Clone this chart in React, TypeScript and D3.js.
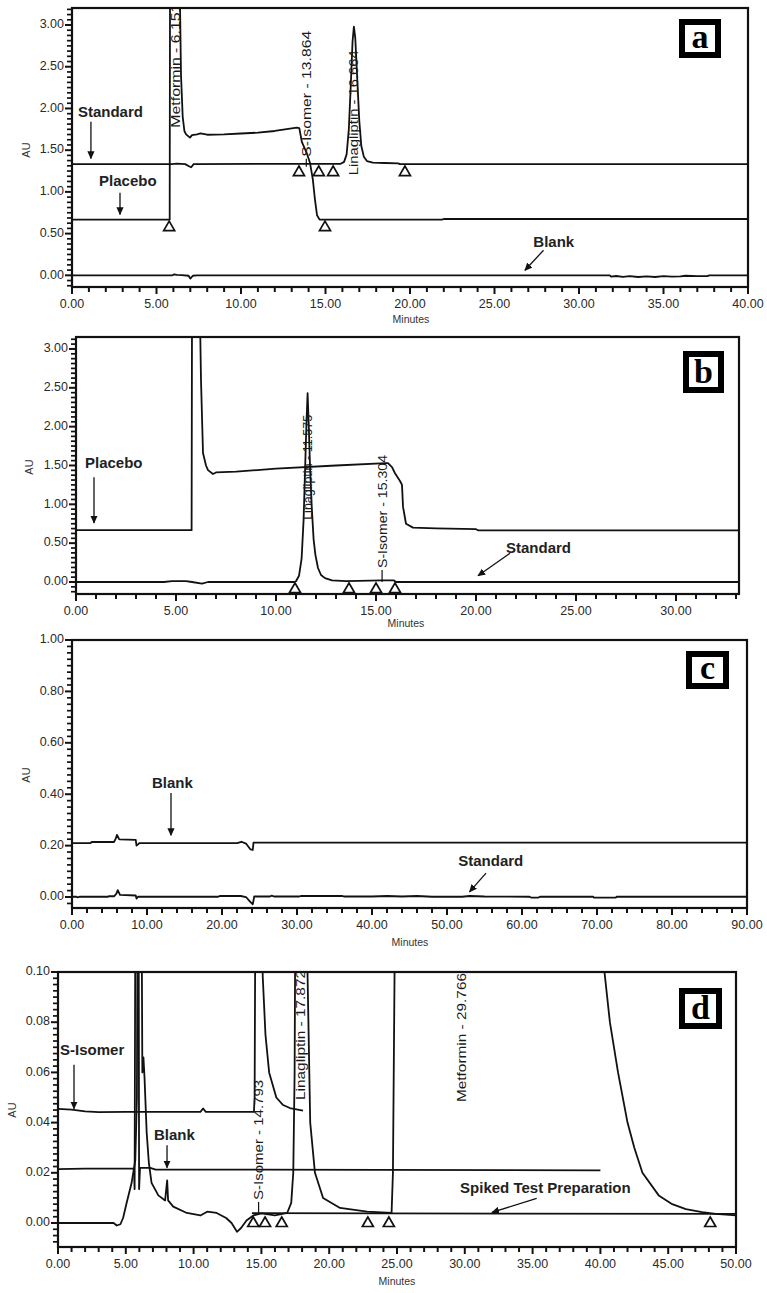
import React from "react";
import * as d3 from "d3";

type Pt = [number, number];

// ---------------- Panel (a) data ----------------
const aTimeTicks = [0, 5, 10, 15, 20, 25, 30, 35, 40];
const aAuTicks = [0, 0.5, 1, 1.5, 2, 2.5, 3];
const aStandard: Pt[] = [
  [0, 1.333], [5.9, 1.333], [6.2, 1.338], [6.7, 1.333], [6.95, 1.305], [7.05, 1.295], [7.2, 1.333],
  [15.9, 1.337], [16.1, 1.36], [16.25, 1.45], [16.38, 1.75], [16.5, 2.3], [16.6, 2.8], [16.68, 2.98],
  [16.76, 2.85], [16.88, 2.35], [17.0, 1.85], [17.12, 1.55], [17.27, 1.42], [17.45, 1.37], [17.8, 1.35],
  [18.5, 1.346], [19.3, 1.342], [19.4, 1.333], [40, 1.333],
];
const aPlacebo: Pt[] = [
  [0, 0.667], [5.78, 0.667], [5.8, 3.4], [6.38, 3.4], [6.45, 2.4], [6.55, 1.9], [6.65, 1.73], [6.75, 1.69],
  [6.98, 1.65], [7.1, 1.68], [7.4, 1.69], [7.6, 1.7], [8.0, 1.685], [9, 1.69], [10, 1.7], [11, 1.71],
  [12, 1.73], [13, 1.76], [13.3, 1.77], [13.45, 1.765], [13.6, 1.6], [13.9, 1.46], [14.08, 1.35],
  [14.25, 1.15], [14.38, 0.9], [14.5, 0.72], [14.65, 0.667], [21.9, 0.667], [22, 0.675], [40, 0.675],
];
const aBlank: Pt[] = [
  [0, 0], [5.95, 0], [6.05, 0.012], [6.2, 0.005], [6.5, 0.003], [6.9, -0.005], [7.0, -0.04], [7.15, -0.005],
  [7.4, 0], [31.8, 0], [31.9, -0.015], [32.2, -0.008], [32.6, -0.018], [33, -0.01], [33.5, -0.02],
  [34, -0.012], [34.5, -0.02], [35, -0.01], [35.5, -0.016], [36, -0.012], [36.3, -0.005], [37, -0.01],
  [37.6, -0.01], [37.7, 0], [40, 0],
];
const aTriangles: Pt[] = [[5.75, 0.59], [13.43, 1.25], [14.6, 1.25], [15.45, 1.25], [19.7, 1.25], [14.97, 0.59]];

// ---------------- Panel (b) data ----------------
const bTimeTicks = [0, 5, 10, 15, 20, 25, 30];
const bAuTicks = [0, 0.5, 1, 1.5, 2, 2.5, 3];
const bPlacebo: Pt[] = [
  [0, 0.667], [5.78, 0.667], [5.8, 3.4], [6.2, 3.4], [6.25, 2.6], [6.35, 1.66], [6.5, 1.5], [6.6, 1.44],
  [6.85, 1.39], [7.0, 1.41], [8, 1.42], [10, 1.46], [13, 1.5], [15.5, 1.53], [15.6, 1.53], [15.8, 1.48],
  [15.95, 1.4], [16.2, 1.3], [16.3, 1.25], [16.35, 0.97], [16.5, 0.75], [16.85, 0.7], [18, 0.69],
  [20, 0.68], [20.1, 0.665], [33.2, 0.665],
];
const bStandard: Pt[] = [
  [0, 0], [4.4, 0], [4.8, 0.01], [5.5, 0.012], [5.8, 0.0], [6.3, -0.02], [6.6, 0.0], [10.9, 0.0],
  [11.0, 0.01], [11.15, 0.08], [11.28, 0.3], [11.38, 0.8], [11.46, 1.5], [11.53, 2.1], [11.58, 2.43],
  [11.64, 2.0], [11.7, 1.5], [11.78, 1.0], [11.88, 0.55], [11.97, 0.35], [12.1, 0.18], [12.25, 0.09],
  [12.45, 0.05], [12.8, 0.02], [13.5, 0.01], [15.3, 0.02], [15.9, 0.02], [16.0, 0.0], [33.2, 0.0],
];
const bTriangles: Pt[] = [[10.95, -0.077], [13.65, -0.077], [15.0, -0.077], [15.95, -0.077]];

// ---------------- Panel (c) data ----------------
const cTimeTicks = [0, 10, 20, 30, 40, 50, 60, 70, 80, 90];
const cAuTicks = [0, 0.2, 0.4, 0.6, 0.8, 1.0];
const cBlank: Pt[] = [
  [0, 0.21], [2.5, 0.21], [2.6, 0.214], [5.6, 0.214], [5.8, 0.225], [6.0, 0.242], [6.3, 0.224],
  [8.5, 0.222], [8.6, 0.2], [8.8, 0.205], [9.0, 0.21], [22.0, 0.21], [22.6, 0.215], [23.2, 0.208],
  [23.8, 0.185], [24.1, 0.183], [24.2, 0.212], [90, 0.212],
];
const cStandard: Pt[] = [
  [0, 0.001], [0.6, 0.001], [0.7, -0.001], [1.0, 0.001], [4.8, 0.001], [4.9, 0.003], [5.6, 0.003],
  [5.9, 0.012], [6.1, 0.027], [6.4, 0.008], [8.5, 0.006], [8.6, -0.006], [8.8, 0.001], [19.5, 0.001],
  [19.7, 0.004], [22.5, 0.004], [23.2, 0.0], [23.8, -0.02], [24.1, -0.028], [24.3, 0.002], [26.4, 0.002],
  [26.6, 0.005], [27, 0.002], [30.3, 0.002], [30.5, 0.004], [36, 0.004], [36.3, 0.002], [40, 0.002],
  [42, 0.004], [44, 0.002], [46, 0.004], [48, 0.001], [52, 0.001], [53, 0.004], [55, 0.002], [61, 0.001],
  [61.2, -0.002], [62.2, -0.002], [62.4, 0.001], [69.5, 0.001], [69.6, -0.002], [72.5, -0.002],
  [72.6, 0.001], [90, 0.001],
];

// ---------------- Panel (d) data ----------------
const dTimeTicks = [0, 5, 10, 15, 20, 25, 30, 35, 40, 45, 50];
const dAuTicks = [0, 0.02, 0.04, 0.06, 0.08, 0.1];
const dSIsomer: Pt[] = [
  [0, 0.0455], [1, 0.0452], [2, 0.0445], [3, 0.0442], [5, 0.0443], [10.5, 0.0443], [10.7, 0.0456],
  [10.9, 0.0443], [14.45, 0.0443], [14.5, 0.05], [14.55, 0.12], [15.0, 0.12], [15.1, 0.098],
  [15.3, 0.075], [15.57, 0.06], [16.1, 0.05], [16.6, 0.047], [17.1, 0.0458], [18.07, 0.0448],
];
const dBlank: Pt[] = [
  [0, 0.0215], [2, 0.0217], [5.6, 0.0217], [5.65, 0.0135], [5.7, 0.12], [5.95, 0.12], [5.98, 0.0135],
  [6.05, 0.022], [6.8, 0.022], [7.2, 0.0213], [40, 0.021],
];
const dSpiked: Pt[] = [
  [0, 0], [4.1, 0], [4.33, -0.001], [4.6, -0.0005], [4.8, 0.002], [5.06, 0.008], [5.43, 0.016],
  [5.7, 0.025], [5.82, 0.05], [5.86, 0.12], [6.17, 0.12], [6.22, 0.06], [6.3, 0.066], [6.38, 0.058],
  [6.54, 0.036], [6.7, 0.024], [6.9, 0.016], [7.4, 0.011], [7.9, 0.009], [8.05, 0.017], [8.12, 0.009],
  [8.5, 0.0065], [9.5, 0.004], [10.5, 0.003], [11.0, 0.0045], [11.7, 0.004], [12.4, 0.002], [12.8, 0.0],
  [13.2, -0.0035], [13.5, -0.002], [13.9, 0.001], [14.4, 0.003], [15.0, 0.0038], [16.0, 0.003],
  [16.9, 0.004], [17.2, 0.008], [17.35, 0.02], [17.45, 0.06], [17.5, 0.12], [18.34, 0.12], [18.4, 0.1],
  [18.6, 0.04], [18.95, 0.02], [19.55, 0.01], [20.8, 0.006], [22.8, 0.0045], [24.6, 0.004], [24.7, 0.02],
  [24.85, 0.12], [40.25, 0.12], [40.3, 0.1], [40.7, 0.08], [41.3, 0.06], [42.0, 0.04], [42.5, 0.03],
  [43.1, 0.02], [44.3, 0.011], [45.3, 0.0075], [46.3, 0.0055], [47.5, 0.0043], [48.5, 0.0036], [50, 0.003],
];
const dIntegrationBase: Pt[] = [[14.3, 0.0039], [50, 0.0036]];
const dTriangles: Pt[] = [[14.4, 0.0004], [15.27, 0.0004], [16.5, 0.0004], [22.85, 0.0004], [24.4, 0.0004], [48.1, 0.0004]];

// ---------------- Panel configuration ----------------
interface PeakLabel { text: string; t: number; v: number; len: number; tick?: number }
interface Note { text: string; t: number; v: number; from: Pt; to: Pt }
interface Spec {
  id: string; letter: string;
  left: number; right: number; top: number; bottom: number;
  xDomain: [number, number]; yDomain: [number, number];
  xTicks: number[]; xMinor: number; yTicks: number[]; yMinorDiv: number; xFmt: string; yFmt: string;
  traces: Pt[][]; extra?: Pt[][]; triangles: Pt[]; peaks: PeakLabel[]; notes: Note[];
  box: [number, number, number, number]; minutes: [number, number]; au: [number, number];
}

const specs: Spec[] = [
  {
    id: "a", letter: "a", left: 72, right: 748, top: 8, bottom: 287,
    xDomain: [0, 40], yDomain: [-0.14, 3.204], xTicks: aTimeTicks, xMinor: 1, yTicks: aAuTicks, yMinorDiv: 8,
    xFmt: ".2f", yFmt: ".2f",
    traces: [aBlank, aPlacebo, aStandard], triangles: aTriangles,
    peaks: [
      { text: "Metformin - 6.151", t: 6.151, v: 1.77, len: 124 },
      { text: "S-Isomer - 13.864", t: 13.864, v: 1.42, len: 126, tick: 1.3 },
      { text: "Linagliptin - 16.664", t: 16.664, v: 1.2, len: 125 },
    ],
    notes: [
      { text: "Standard", t: 0.35, v: 1.9, from: [1.12, 1.84], to: [1.12, 1.4] },
      { text: "Placebo", t: 1.6, v: 1.07, from: [2.84, 0.99], to: [2.84, 0.73] },
      { text: "Blank", t: 27.3, v: 0.34, from: [27.9, 0.3], to: [26.8, 0.06] },
    ],
    box: [679, 19, 42, 39], minutes: [411, 320], au: [27, 150],
  },
  {
    id: "b", letter: "b", left: 76, right: 739, top: 337, bottom: 594,
    xDomain: [0, 33.15], yDomain: [-0.1545, 3.154], xTicks: bTimeTicks, xMinor: 1, yTicks: bAuTicks, yMinorDiv: 8,
    xFmt: ".2f", yFmt: ".2f",
    traces: [bPlacebo, bStandard], triangles: bTriangles,
    peaks: [
      { text: "Linagliptin - 11.575", t: 11.575, v: 0.8, len: 105 },
      { text: "S-Isomer - 15.304", t: 15.304, v: 0.18, len: 113, tick: 0.0 },
    ],
    notes: [
      { text: "Placebo", t: 0.45, v: 1.47, from: [0.9, 1.35], to: [0.9, 0.76] },
      { text: "Standard", t: 21.5, v: 0.37, from: [21.7, 0.37], to: [20.1, 0.08] },
    ],
    box: [683, 351, 41, 42], minutes: [406, 624], au: [30, 467],
  },
  {
    id: "c", letter: "c", left: 72, right: 747, top: 640, bottom: 908,
    xDomain: [0, 90], yDomain: [-0.0427, 1.0], xTicks: cTimeTicks, xMinor: 2, yTicks: cAuTicks, yMinorDiv: 8,
    xFmt: ".2f", yFmt: ".2f",
    traces: [cBlank, cStandard], triangles: [],
    peaks: [],
    notes: [
      { text: "Blank", t: 10.67, v: 0.423, from: [13.2, 0.405], to: [13.2, 0.24] },
      { text: "Standard", t: 51.5, v: 0.12, from: [55.2, 0.093], to: [53.0, 0.02] },
    ],
    box: [686, 651, 43, 38], minutes: [410, 943], au: [27, 775],
  },
  {
    id: "d", letter: "d", left: 58, right: 736, top: 972, bottom: 1247,
    xDomain: [0, 50], yDomain: [-0.00956, 0.1], xTicks: dTimeTicks, xMinor: 1, yTicks: dAuTicks, yMinorDiv: 8,
    xFmt: ".2f", yFmt: ".2f",
    traces: [dBlank, dSIsomer, dSpiked], extra: [dIntegrationBase], triangles: dTriangles,
    peaks: [
      { text: "S-Isomer - 14.793", t: 14.793, v: 0.0092, len: 120, tick: 0.004 },
      { text: "Linagliptin - 17.872", t: 17.872, v: 0.049, len: 130 },
      { text: "Metformin - 29.766", t: 29.766, v: 0.0482, len: 129 },
    ],
    notes: [
      { text: "S-Isomer", t: 0.15, v: 0.0669, from: [1.18, 0.063], to: [1.18, 0.0455] },
      { text: "Blank", t: 7.08, v: 0.0331, from: [8.04, 0.031], to: [8.04, 0.022] },
      { text: "Spiked Test Preparation", t: 29.65, v: 0.012, from: [35.3, 0.0098], to: [32.0, 0.0042] },
    ],
    box: [679, 988, 43, 41], minutes: [397, 1282], au: [13, 1110],
  },
];

const SANS = "'Liberation Sans', Arial, sans-serif";
const INK = "#111";

function Panel({ s }: { s: Spec }) {
  const x = d3.scaleLinear().domain(s.xDomain).range([s.left, s.right]);
  const y = d3.scaleLinear().domain(s.yDomain).range([s.bottom, s.top]);
  const line = d3.line<Pt>().x((d) => x(d[0])).y((d) => y(d[1]));
  const xMinor = d3.range(s.xDomain[0], s.xDomain[1] + 1e-9, s.xMinor).filter((t) => !s.xTicks.some((m) => Math.abs(m - t) < 1e-9));
  const yStep = (s.yTicks[1] - s.yTicks[0]) / s.yMinorDiv;
  const yMinor = d3
    .range(Math.ceil(s.yDomain[0] / yStep) * yStep, s.yDomain[1] + 1e-9, yStep)
    .filter((v) => !s.yTicks.some((m) => Math.abs(m - v) < yStep / 10));
  const fx = d3.format(s.xFmt);
  const fy = d3.format(s.yFmt);
  const clip = `clip-${s.id}`;
  const [bx, by, bw, bh] = s.box;
  return (
    <g>
      <defs>
        <clipPath id={clip}>
          <rect x={s.left} y={s.top} width={s.right - s.left} height={s.bottom - s.top} />
        </clipPath>
      </defs>
      <g clipPath={`url(#${clip})`}>
        {s.traces.map((tr, i) => (
          <path key={i} d={line(tr) || ""} fill="none" stroke={INK} strokeWidth={1.8} strokeLinejoin="round" />
        ))}
        {(s.extra || []).map((tr, i) => (
          <path key={"e" + i} d={line(tr) || ""} fill="none" stroke={INK} strokeWidth={1.8} />
        ))}
        {s.peaks.map((p, i) => {
          const px = x(p.t);
          const py = y(p.v);
          return (
            <g key={i}>
              <text
                transform={`translate(${px},${py}) rotate(-90)`}
                dominantBaseline="central"
                fontFamily={SANS}
                fontSize={13}
                fill="#1a1a1a"
                textLength={p.len}
                lengthAdjust="spacingAndGlyphs"
              >
                {p.text}
              </text>
              {p.tick !== undefined && (
                <line x1={px} x2={px} y1={py + 2} y2={y(p.tick)} stroke={INK} strokeWidth={1.2} />
              )}
            </g>
          );
        })}
        {s.triangles.map((t, i) => {
          const cx = x(t[0]);
          const cy = y(t[1]);
          return (
            <path
              key={i}
              d={`M${cx},${cy - 5} L${cx + 5.5},${cy + 4.5} L${cx - 5.5},${cy + 4.5} Z`}
              fill="white"
              stroke={INK}
              strokeWidth={1.7}
            />
          );
        })}
      </g>
      {/* frame */}
      <rect x={s.left} y={s.top} width={s.right - s.left} height={s.bottom - s.top} fill="none" stroke={INK} strokeWidth={2.2} />
      {/* x ticks */}
      {s.xTicks.map((t) => (
        <g key={"xt" + t}>
          <line x1={x(t)} x2={x(t)} y1={s.bottom} y2={s.bottom + 7} stroke={INK} strokeWidth={2} />
          <text x={x(t)} y={s.bottom + 18} textAnchor="middle" dominantBaseline="middle" fontFamily={SANS} fontSize={12.5} fill="#2a2a2a">
            {fx(t)}
          </text>
        </g>
      ))}
      {xMinor.map((t) => (
        <line key={"xm" + t} x1={x(t)} x2={x(t)} y1={s.bottom} y2={s.bottom + 5} stroke={INK} strokeWidth={2} />
      ))}
      {/* y ticks */}
      {s.yTicks.map((v) => (
        <g key={"yt" + v}>
          <line x1={s.left - 7} x2={s.left} y1={y(v)} y2={y(v)} stroke={INK} strokeWidth={2} />
          <text x={s.left - 8} y={y(v)} textAnchor="end" dominantBaseline="middle" fontFamily={SANS} fontSize={12.5} fill="#2a2a2a">
            {fy(v)}
          </text>
        </g>
      ))}
      {yMinor.map((v) => (
        <line key={"ym" + v} x1={s.left - 5} x2={s.left} y1={y(v)} y2={y(v)} stroke={INK} strokeWidth={1.7} />
      ))}
      {/* axis titles */}
      <text x={s.minutes[0]} y={s.minutes[1]} textAnchor="middle" dominantBaseline="middle" fontFamily={SANS} fontSize={10.5} fill="#333">
        Minutes
      </text>
      <text
        transform={`translate(${s.au[0]},${s.au[1]}) rotate(-90)`}
        textAnchor="middle"
        dominantBaseline="middle"
        fontFamily={SANS}
        fontSize={11}
        fill="#333"
      >
        AU
      </text>
      {/* annotations */}
      {s.notes.map((n, i) => (
        <g key={"n" + i}>
          <text x={x(n.t)} y={y(n.v)} fontFamily={SANS} fontWeight="bold" fontSize={15} fill="#222">
            {n.text}
          </text>
          <line
            x1={x(n.from[0])}
            y1={y(n.from[1])}
            x2={x(n.to[0])}
            y2={y(n.to[1])}
            stroke={INK}
            strokeWidth={1.3}
            markerEnd="url(#arrowhead)"
          />
        </g>
      ))}
      {/* panel letter box */}
      <rect x={bx + 3} y={by + 3} width={bw - 6} height={bh - 6} fill="white" stroke="#000" strokeWidth={6} />
      <text
        x={bx + bw / 2}
        y={by + bh - 10}
        textAnchor="middle"
        fontFamily="'Liberation Serif', 'Times New Roman', serif"
        fontWeight="bold"
        fontSize={34}
        fill="#000"
      >
        {s.letter}
      </text>
    </g>
  );
}

export default function App() {
  return (
    <svg
      width={767}
      height={1293}
      viewBox="0 0 767 1293"
      style={{ position: "absolute", left: 0, top: 0, background: "white" }}
    >
      <defs>
        <marker
          id="arrowhead"
          viewBox="0 0 10 10"
          refX="9"
          refY="5"
          markerWidth="8"
          markerHeight="8"
          markerUnits="userSpaceOnUse"
          orient="auto"
        >
          <path d="M0,0.5 L10,5 L0,9.5 z" fill={INK} />
        </marker>
      </defs>
      <rect x={0} y={0} width={767} height={1293} fill="white" />
      {specs.map((s) => (
        <Panel key={s.id} s={s} />
      ))}
    </svg>
  );
}
